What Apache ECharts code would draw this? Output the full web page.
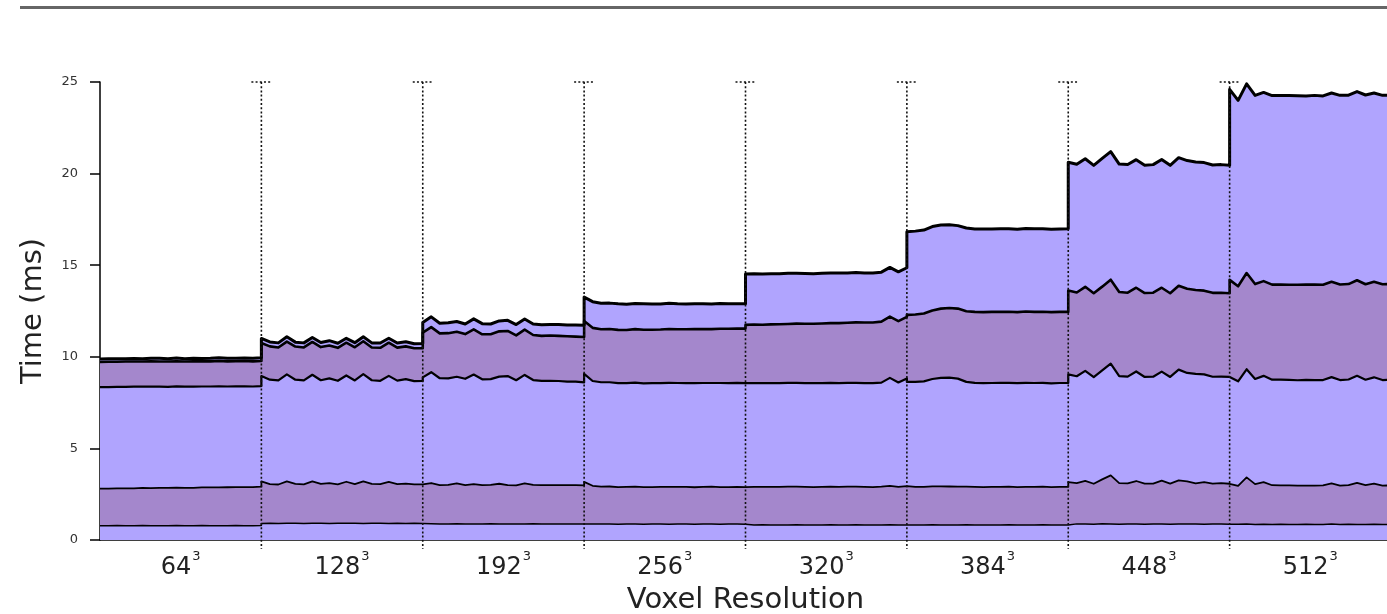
<!DOCTYPE html>
<html>
<head>
<meta charset="utf-8">
<script src="https://cdn.jsdelivr.net/npm/echarts@6/dist/echarts.min.js"></script>
<style>html,body{margin:0;padding:0;background:#fff;}#chart{width:1387px;height:614px;}</style>
</head>
<body>
<div id="chart"></div>
<script>
// Voxel resolution groups (each is N^3)
const resolutions = ['64','128','192','256','320','384','448','512'];
const samplesPerGroup = 20;
const yTicks = [0, 5, 10, 15, 20, 25];

// Per-stage times (ms), stacked bottom -> top, 20 samples per resolution group
const stage1 = [
 0.78,0.78,0.79,0.78,0.78,0.79,0.78,0.78,0.78,0.79,0.78,0.78,0.79,0.78,0.78,0.78,0.79,0.78,0.78,0.79,
 0.90,0.91,0.90,0.92,0.91,0.90,0.91,0.92,0.90,0.91,0.92,0.91,0.90,0.91,0.92,0.90,0.91,0.90,0.91,0.90,
 0.88,0.89,0.88,0.88,0.89,0.88,0.87,0.88,0.89,0.88,0.88,0.87,0.88,0.89,0.88,0.88,0.87,0.88,0.88,0.87,
 0.87,0.88,0.87,0.87,0.86,0.87,0.87,0.86,0.87,0.87,0.86,0.87,0.87,0.86,0.87,0.87,0.86,0.87,0.87,0.86,
 0.82,0.82,0.83,0.82,0.82,0.82,0.83,0.82,0.82,0.82,0.83,0.82,0.82,0.83,0.82,0.82,0.82,0.83,0.82,0.82,
 0.82,0.82,0.82,0.83,0.82,0.82,0.82,0.83,0.82,0.82,0.82,0.82,0.83,0.82,0.82,0.82,0.83,0.82,0.82,0.82,
 0.86,0.88,0.87,0.86,0.89,0.87,0.86,0.88,0.87,0.86,0.87,0.88,0.86,0.87,0.88,0.87,0.86,0.87,0.88,0.86,
 0.85,0.86,0.87,0.85,0.86,0.85,0.86,0.85,0.85,0.86,0.85,0.85,0.87,0.85,0.86,0.85,0.85,0.86,0.85,0.85
];
const stage2 = [
 2.02,2.02,2.03,2.04,2.04,2.05,2.05,2.06,2.06,2.07,2.07,2.07,2.08,2.09,2.09,2.10,2.10,2.11,2.11,2.12,
 2.30,2.14,2.13,2.28,2.15,2.14,2.29,2.14,2.20,2.13,2.26,2.14,2.30,2.15,2.13,2.27,2.14,2.18,2.13,2.14,
 2.14,2.22,2.12,2.13,2.20,2.12,2.18,2.11,2.12,2.19,2.12,2.11,2.21,2.12,2.11,2.12,2.13,2.11,2.12,2.11,
 2.30,2.08,2.04,2.05,2.03,2.03,2.04,2.03,2.02,2.03,2.04,2.03,2.03,2.02,2.03,2.04,2.03,2.02,2.03,2.03,
 2.08,2.08,2.07,2.08,2.08,2.09,2.08,2.08,2.07,2.08,2.08,2.08,2.09,2.08,2.08,2.07,2.09,2.12,2.08,2.12,
 2.09,2.08,2.08,2.10,2.11,2.10,2.09,2.08,2.08,2.07,2.08,2.08,2.08,2.07,2.08,2.08,2.08,2.07,2.08,2.08,
 2.30,2.22,2.36,2.21,2.42,2.66,2.24,2.21,2.35,2.22,2.21,2.36,2.22,2.38,2.32,2.22,2.30,2.21,2.22,2.21,
 2.25,2.10,2.55,2.20,2.30,2.14,2.12,2.13,2.12,2.11,2.12,2.13,2.22,2.12,2.13,2.27,2.14,2.22,2.12,2.13
];
const stage3 = [
 5.55,5.55,5.54,5.54,5.55,5.53,5.54,5.53,5.52,5.53,5.52,5.52,5.51,5.51,5.52,5.50,5.50,5.50,5.49,5.49,
 5.75,5.70,5.68,5.84,5.69,5.67,5.82,5.66,5.72,5.65,5.80,5.66,5.85,5.66,5.64,5.79,5.65,5.70,5.63,5.64,
 5.86,6.05,5.83,5.81,5.82,5.80,5.98,5.78,5.77,5.85,5.95,5.74,5.92,5.72,5.70,5.69,5.68,5.66,5.64,5.62,
 5.90,5.72,5.70,5.69,5.67,5.66,5.68,5.66,5.67,5.66,5.68,5.67,5.66,5.68,5.67,5.66,5.68,5.67,5.68,5.67,
 5.67,5.67,5.66,5.67,5.66,5.67,5.67,5.66,5.67,5.66,5.67,5.66,5.67,5.67,5.66,5.67,5.68,5.90,5.70,5.88,
 5.72,5.73,5.76,5.86,5.92,5.94,5.90,5.72,5.68,5.67,5.67,5.68,5.67,5.67,5.68,5.67,5.67,5.66,5.67,5.67,
 5.88,5.84,6.00,5.82,5.95,6.10,5.85,5.83,5.98,5.82,5.83,5.95,5.82,6.05,5.92,5.98,5.88,5.83,5.82,5.83,
 5.85,5.70,5.90,5.74,5.80,5.76,5.77,5.76,5.75,5.77,5.76,5.75,5.80,5.76,5.77,5.84,5.76,5.80,5.76,5.77
];
const stage4 = [
 1.37,1.38,1.37,1.38,1.37,1.37,1.38,1.37,1.38,1.37,1.37,1.38,1.37,1.37,1.38,1.37,1.37,1.38,1.37,1.37,
 1.80,1.82,1.80,1.79,1.81,1.80,1.79,1.81,1.80,1.80,1.79,1.81,1.80,1.79,1.80,1.81,1.80,1.79,1.80,1.79,
 2.44,2.46,2.45,2.47,2.46,2.44,2.47,2.46,2.45,2.47,2.46,2.45,2.47,2.46,2.45,2.47,2.46,2.47,2.46,2.48,
 2.89,2.90,2.89,2.91,2.91,2.90,2.92,2.93,2.92,2.93,2.94,2.93,2.94,2.95,2.95,2.94,2.96,2.97,2.96,2.98,
 3.17,3.19,3.19,3.20,3.22,3.21,3.23,3.24,3.24,3.26,3.26,3.28,3.28,3.30,3.31,3.31,3.33,3.34,3.35,3.36,
 3.66,3.68,3.70,3.74,3.78,3.80,3.82,3.86,3.87,3.88,3.88,3.87,3.88,3.88,3.89,3.88,3.88,3.89,3.88,3.88,
 4.58,4.57,4.59,4.58,4.57,4.58,4.59,4.58,4.57,4.58,4.59,4.58,4.57,4.58,4.59,4.58,4.57,4.58,4.58,4.57,
 5.25,5.19,5.25,5.18,5.17,5.19,5.20,5.19,5.21,5.20,5.21,5.20,5.21,5.22,5.21,5.22,5.21,5.22,5.23,5.22
];
const stage5 = [
 0.16,0.16,0.17,0.16,0.17,0.16,0.17,0.18,0.16,0.17,0.16,0.17,0.16,0.17,0.18,0.17,0.16,0.17,0.17,0.18,
 0.25,0.24,0.25,0.26,0.24,0.25,0.24,0.25,0.26,0.25,0.24,0.25,0.24,0.25,0.26,0.24,0.25,0.25,0.24,0.25,
 0.55,0.56,0.55,0.57,0.56,0.55,0.57,0.58,0.56,0.57,0.58,0.59,0.58,0.60,0.61,0.60,0.62,0.61,0.63,0.64,
 1.30,1.43,1.42,1.41,1.42,1.41,1.40,1.41,1.40,1.39,1.40,1.39,1.38,1.39,1.38,1.37,1.38,1.37,1.36,1.36,
 2.78,2.78,2.77,2.77,2.76,2.77,2.75,2.75,2.74,2.74,2.73,2.73,2.72,2.72,2.71,2.71,2.70,2.69,2.69,2.68,
 4.54,4.55,4.56,4.58,4.56,4.55,4.53,4.54,4.53,4.54,4.53,4.54,4.53,4.52,4.53,4.54,4.53,4.52,4.53,4.54,
 7.00,7.00,6.99,6.98,7.00,6.99,6.98,7.00,6.99,6.98,6.99,7.00,6.98,6.99,7.00,6.98,6.99,6.98,6.99,6.98,
 10.40,10.15,10.33,10.30,10.30,10.32,10.31,10.33,10.32,10.30,10.33,10.31,10.30,10.32,10.31,10.30,10.33,10.30,10.31,10.30
];

const stages = [stage1, stage2, stage3, stage4, stage5];
const fills = ['#b0a4fe', '#a487cc', '#b0a4fe', '#a487cc', '#b0a4fe'];
const widths = [1.5, 1.8, 2.2, 2.6, 3];

// cumulative tops
const tops = [];
let running = new Array(stage1.length).fill(0);
stages.forEach(s => {
  running = running.map((v, i) => +(v + s[i]).toFixed(3));
  tops.push(running.slice());
});
const xOf = i => Math.floor(i / samplesPerGroup) + (i % samplesPerGroup) / (samplesPerGroup - 1);

const series = [];
for (let li = stages.length - 1; li >= 0; li--) {
  series.push({
    type: 'line',
    name: 'stage' + (li + 1),
    data: tops[li].map((v, i) => [xOf(i), v]),
    showSymbol: false,
    symbol: 'none',
    lineStyle: { color: '#000', width: widths[li], join: 'round' },
    areaStyle: { color: fills[li], opacity: 1 },
    z: 2,
    silent: true,
    animation: false
  });
}
const boundaries = resolutions.slice(1).map((r, i) => i + 1);
const yMax = yTicks[yTicks.length - 1];
series.push({
  type: 'custom',
  data: boundaries.map(b => [b]),
  encode: { x: 0 },
  clip: false,
  z: 10,
  silent: true,
  animation: false,
  renderItem: function (params, api) {
    const x = api.value(0);
    const top = api.coord([x, yMax]);
    const bot = api.coord([x, 0]);
    const st = { stroke: '#111', lineWidth: 1.6, lineDash: [2, 2.2] };
    return {
      type: 'group',
      children: [
        { type: 'line', shape: { x1: top[0], y1: top[1], x2: bot[0], y2: bot[1] + 9 }, style: st },
        { type: 'line', shape: { x1: top[0] - 10, y1: top[1], x2: top[0] + 10, y2: top[1] }, style: st }
      ]
    };
  }
});

const chart = echarts.init(document.getElementById('chart'), null, { renderer: 'canvas' });
chart.setOption({
  animation: false,
  backgroundColor: '#fff',
  textStyle: { fontFamily: 'DejaVu Sans' },
  grid: { left: 100, top: 82, width: 1291, height: 458, containLabel: false, outerBoundsMode: 'none' },
  graphic: [{
    type: 'line', shape: { x1: 20, y1: 7.5, x2: 1387, y2: 7.5 },
    style: { stroke: '#666', lineWidth: 3 }
  }],
  xAxis: {
    type: 'value', min: 0, max: resolutions.length, interval: 0.5,
    name: 'Voxel Resolution', nameLocation: 'middle', nameGap: 46,
    nameTextStyle: { fontSize: 29, color: '#222', fontFamily: 'DejaVu Sans' },
    axisLine: { show: true, lineStyle: { color: '#000', width: 1.5 } },
    axisTick: { show: false },
    splitLine: { show: false },
    axisLabel: {
      margin: 10,
      formatter: function (v) {
        const g = Math.floor(v);
        if (Math.abs(v - g - 0.5) < 1e-6 && resolutions[g]) return '{n|' + resolutions[g] + '}{s|3}';
        return '';
      },
      rich: {
        n: { fontSize: 24, lineHeight: 30, color: '#222', fontFamily: 'DejaVu Sans', verticalAlign: 'bottom' },
        s: { fontSize: 13, color: '#222', fontFamily: 'DejaVu Sans', verticalAlign: 'top', padding: [0, 0, 0, 1] }
      }
    }
  },
  yAxis: {
    type: 'value', min: 0, max: yMax, interval: 5,
    name: 'Time (ms)', nameLocation: 'middle', nameGap: 52,
    nameTextStyle: { fontSize: 29, color: '#222', fontFamily: 'DejaVu Sans' },
    axisLine: { show: true, lineStyle: { color: '#000', width: 1.5 } },
    axisTick: { show: true, inside: false, length: 10, lineStyle: { color: '#000', width: 1.5 } },
    splitLine: { show: false },
    axisLabel: { fontSize: 13, color: '#333', margin: 22, fontFamily: 'DejaVu Sans' }
  },
  series: series
});
</script>
</body>
</html>
